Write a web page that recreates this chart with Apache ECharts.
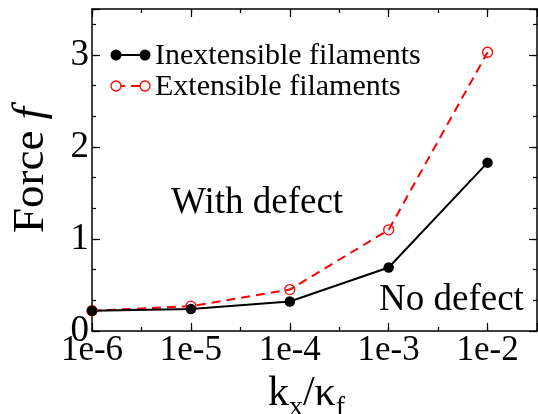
<!DOCTYPE html>
<html>
<head>
<meta charset="utf-8">
<script src="https://cdn.jsdelivr.net/npm/echarts@6/dist/echarts.min.js"></script>
<style>
  html, body { margin: 0; padding: 0; background: #fff; }
  #chart { width: 538px; height: 414px; }
</style>
</head>
<body>
<div id="chart"></div>
<script>
// log10(k_x / kappa_f)
const logK = [-6, -5, -4, -3, -2]
const inextensible = [0.22, 0.24, 0.32, 0.69, 1.83]
const extensible = [0.22, 0.27, 0.45, 1.10, 3.03]
const legendNames = ['Inextensible filaments', 'Extensible filaments']

const serif = 'Liberation Serif'
const chart = echarts.init(document.getElementById('chart'))

function xAxisBase (pos, interval, len, showLine, showLabel) {
  return {
    type: 'value',
    position: pos,
    min: -6,
    max: -1.5,
    interval: interval,
    axisLine: { show: showLine, onZero: false, lineStyle: { color: '#000', width: 1.5 } },
    axisTick: { show: true, inside: true, length: len, lineStyle: { color: '#000', width: 1.2 } },
    axisLabel: {
      show: showLabel,
      margin: 2,
      color: '#000',
      fontFamily: serif,
      fontSize: 35,
      formatter: v => (Math.abs(v - Math.round(v)) < 1e-9 ? '1e' + Math.round(v) : '')
    },
    splitLine: { show: false }
  }
}

function yAxisBase (pos, interval, len, showLine, showLabel) {
  return {
    type: 'value',
    position: pos,
    min: 0,
    max: 3.5,
    interval: interval,
    axisLine: { show: showLine, onZero: false, lineStyle: { color: '#000', width: 1.5 } },
    axisTick: { show: true, inside: true, length: len, lineStyle: { color: '#000', width: 1.2 } },
    axisLabel: {
      show: showLabel,
      margin: 3,
      color: '#000',
      fontFamily: serif,
      fontSize: 37,
      formatter: v => (Math.abs(v - Math.round(v)) < 1e-9 ? String(Math.round(v)) : '')
    },
    splitLine: { show: false }
  }
}

const xMain = xAxisBase('bottom', 0.5, 4, true, true)
xMain.name = '{k|k}{s|x}{k|/κ}{s|f}'
xMain.nameLocation = 'middle'
xMain.nameGap = 32
xMain.nameTextStyle = {
  color: '#000',
  fontFamily: serif,
  padding: [0, 16, 0, 0],
  rich: {
    k: { fontSize: 42, fontFamily: serif, color: '#000' },
    s: { fontSize: 28, fontFamily: serif, color: '#000', padding: [28, 0, 0, 0] }
  }
}

const yMain = yAxisBase('left', 1, 8, true, true)
yMain.name = '{a|Force }{i|f}'
yMain.nameLocation = 'middle'
yMain.nameRotate = 90
yMain.nameGap = 38
yMain.nameTextStyle = {
  padding: [0, 0, 0, 0],
  rich: {
    a: { fontSize: 45, fontFamily: serif, color: '#000' },
    i: { fontSize: 45, fontFamily: serif, fontStyle: 'italic', color: '#000' }
  }
}

chart.setOption({
  animation: false,
  backgroundColor: '#fff',
  grid: { left: 92, right: 1, top: 9, bottom: 83, containLabel: false, outerBoundsMode: 'none' },
  xAxis: [
    xMain,
    xAxisBase('bottom', 1, 8, false, false),
    xAxisBase('top', 0.5, 4, true, false),
    xAxisBase('top', 1, 8, false, false)
  ],
  yAxis: [
    yMain,
    yAxisBase('left', 1 / 3, 4, false, false),
    yAxisBase('right', 1, 8, true, false),
    yAxisBase('right', 1 / 3, 4, false, false)
  ],
  graphic: [
    // legend
    { type: 'line', shape: { x1: 116, y1: 55, x2: 145, y2: 55 }, style: { stroke: '#000', lineWidth: 2 } },
    { type: 'circle', shape: { cx: 116, cy: 55, r: 5.5 }, style: { fill: '#000' } },
    { type: 'circle', shape: { cx: 145, cy: 55, r: 5.5 }, style: { fill: '#000' } },
    { type: 'text', style: { x: 155, y: 56, verticalAlign: 'middle', text: legendNames[0], font: '30px ' + serif, fill: '#000' } },
    { type: 'line', shape: { x1: 116, y1: 86, x2: 145, y2: 86 }, style: { stroke: '#ff0000', lineWidth: 2, lineDash: [9, 6] } },
    { type: 'circle', shape: { cx: 116, cy: 86, r: 5 }, style: { fill: '#fff', stroke: '#ff0000', lineWidth: 1.3 } },
    { type: 'circle', shape: { cx: 145, cy: 86, r: 5 }, style: { fill: '#fff', stroke: '#ff0000', lineWidth: 1.3 } },
    { type: 'text', style: { x: 155, y: 87, verticalAlign: 'middle', text: legendNames[1], font: '30px ' + serif, fill: '#000' } },
    // annotations
    { type: 'text', style: { x: 171, y: 203, verticalAlign: 'middle', text: 'With defect', font: '37px ' + serif, fill: '#000' } },
    { type: 'text', style: { x: 379, y: 300, verticalAlign: 'middle', text: 'No defect', font: '37px ' + serif, fill: '#000' } }
  ],
  series: [
    {
      name: legendNames[1],
      type: 'line',
      xAxisIndex: 0,
      yAxisIndex: 0,
      data: logK.map((k, i) => [k, extensible[i]]),
      symbol: 'circle',
      symbolSize: 10,
      lineStyle: { color: '#ff0000', width: 2, type: [9, 6] },
      itemStyle: { color: 'rgba(0,0,0,0)', borderColor: '#ff0000', borderWidth: 1.3 }
    },
    {
      name: legendNames[0],
      type: 'line',
      xAxisIndex: 0,
      yAxisIndex: 0,
      data: logK.map((k, i) => [k, inextensible[i]]),
      symbol: 'circle',
      symbolSize: 10.5,
      lineStyle: { color: '#000', width: 2 },
      itemStyle: { color: '#000' }
    }
  ]
})
</script>
</body>
</html>
